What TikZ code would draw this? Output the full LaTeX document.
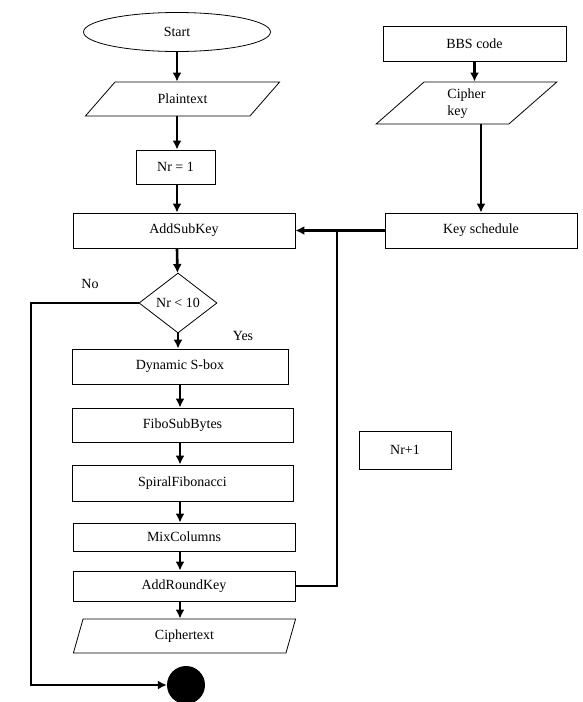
\documentclass[tikz,border=0pt]{standalone}
\usepackage{fontspec}
\setmainfont{Liberation Serif}
\usetikzlibrary{arrows.meta,shapes.geometric}

\begin{document}
\begin{tikzpicture}[x=1pt, y=-1pt, >={Latex[length=9pt, width=9pt]},
	every node/.style={font=\fontsize{14}{17}\selectfont},
	box/.style={draw, line width=0.8pt, rectangle, inner sep=0pt},
	para/.style={draw, line width=0.8pt, trapezium, trapezium stretches=true, inner sep=0pt},
	flow/.style={->, line width=2.6pt},
	link/.style={line width=2.6pt}]

\useasboundingbox (0,0) rectangle (582,702);

\node (start) at (177,32) [draw, line width=0.8pt, ellipse, minimum width=187, minimum height=39, inner sep=0pt] {Start};
\node (plain) at (182.5,99) [para, trapezium left angle=42, trapezium right angle=138, minimum width=195, minimum height=34] {Plaintext};
\node (nrone) at (175.5,167) [box, minimum width=79, minimum height=34] {Nr = 1};
\node (addsub) at (184,230.5) [box, minimum width=222, minimum height=35] {AddSubKey};
\node (test) at (178,303) [draw, line width=0.8pt, diamond, aspect=1.3, minimum width=78, minimum height=60, inner sep=0pt] {Nr < 10};
\node (dsbox) at (180,366.5) [box, minimum width=216, minimum height=35] {Dynamic S-box};
\node (fibo) at (182.5,425) [box, minimum width=221, minimum height=34] {FiboSubBytes};
\node (spiral) at (182.5,483) [box, minimum width=221, minimum height=36] {SpiralFibonacci};
\node (mix) at (184,537) [box, minimum width=222, minimum height=28] {MixColumns};
\node (addround) at (184,586) [box, minimum width=222, minimum height=30] {AddRoundKey};
\node (cipher) at (184.5,636) [para, trapezium left angle=77.5, trapezium right angle=102.5, minimum width=223, minimum height=34] {Ciphertext};
\node (stop) at (186,685) [circle, fill, minimum size=38, inner sep=0pt] {};

\node (bbs) at (474.5,43.5) [box, minimum width=183, minimum height=35] {BBS code};
\node (ckey) at (466.5,103) [para, trapezium left angle=56, trapezium right angle=124, minimum width=181, minimum height=42, align=left] {\strut Cipher\\key};
\node (keysch) at (481,230.5) [box, minimum width=192, minimum height=35] {Key schedule};
\node (nrplus) at (405,450) [box, minimum width=92, minimum height=38] {Nr+1};

\node (no) at (90,284) {No};
\node (yes) at (243,336) {Yes};

\coordinate (noturn) at (31,685);
\coordinate (loopjoin) at (337,230.5);

\draw[flow] (start) -- (start |- plain.north);
\draw[flow] (start |- plain.south) -- (start |- nrone.north);
\draw[flow] (start |- nrone.south) -- (start |- addsub.north);
\draw[flow] (start |- addsub.south) -- (test);
\draw[flow] (test) -- (test |- dsbox.north);
\draw[flow] (dsbox) -- (dsbox |- fibo.north);
\draw[flow] (dsbox |- fibo.south) -- (dsbox |- spiral.north);
\draw[flow] (dsbox |- spiral.south) -- (dsbox |- mix.north);
\draw[flow] (dsbox |- mix.south) -- (dsbox |- addround.north);
\draw[flow] (dsbox |- addround.south) -- (dsbox |- cipher.north);
\draw[flow] (test.west) -| (noturn) -- (stop);

\draw[flow] (bbs) -- (bbs |- ckey.north);
\draw[flow] (keysch |- ckey.south) -- (keysch.north);
\draw[flow] (keysch) -- (addsub);
\draw[link] (addround.east) -| (loopjoin);

\end{tikzpicture}
\end{document}
